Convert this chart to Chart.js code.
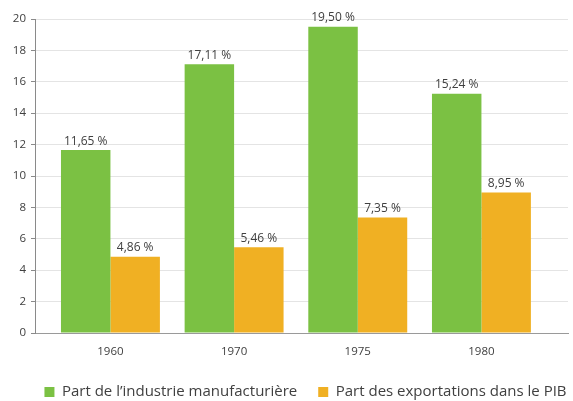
<!DOCTYPE html>
<html>
<head>
<meta charset="utf-8">
<script src="https://cdn.jsdelivr.net/npm/chart.js@4.4.0/dist/chart.umd.min.js"></script>
<style>
  html, body { margin: 0; padding: 0; background: #fff; }
  #wrap { width: 573px; height: 401px; }
</style>
</head>
<body>
<div id="wrap"><canvas id="myChart" width="573" height="401"></canvas></div>
<script>
var years = ['1960', '1970', '1975', '1980'];
var industrie = [11.65, 17.11, 19.50, 15.24];
var exportations = [4.86, 5.46, 7.35, 8.95];
var yTicks = [0, 2, 4, 6, 8, 10, 12, 14, 16, 18, 20];

function points(values) {
    return values.map(function (v, i) { return { x: i, y: v }; });
}

// étiquettes au-dessus des barres
var valueLabels = {
    id: 'valueLabels',
    afterDatasetsDraw: function (chart) {
        var ctx = chart.ctx;
        ctx.save();
        ctx.font = '12px "Open Sans"';
        ctx.fillStyle = '#404040';
        ctx.textAlign = 'center';
        ctx.textBaseline = 'bottom';
        chart.data.datasets.forEach(function (ds, di) {
            chart.getDatasetMeta(di).data.forEach(function (bar, i) {
                var txt = ds.data[i].y.toFixed(2).replace('.', ',') + ' %';
                ctx.fillText(txt, bar.x, bar.y - 3);
            });
        });
        ctx.restore();
    }
};

// décale la légende un peu vers la droite, comme sur l'original
var legendShift = {
    id: 'legendShift',
    afterLayout: function (chart) {
        if (chart.legend) {
            chart.legend.left += 21.5;
            chart.legend.right += 21.5;
        }
    }
};

var ctx = document.getElementById('myChart').getContext('2d');
var myChart = new Chart(ctx, {
    type: 'bar',
    data: {
        datasets: [{
            label: 'Part de l\u2019industrie manufacturière',
            data: points(industrie),
            backgroundColor: '#7bc143',
            categoryPercentage: 0.8,
            barPercentage: 1.0
        }, {
            label: 'Part des exportations dans le PIB',
            data: points(exportations),
            backgroundColor: '#f0b023',
            categoryPercentage: 0.8,
            barPercentage: 1.0
        }]
    },
    options: {
        responsive: false,
        animation: false,
        layout: { padding: { top: 19, right: 5, left: 0, bottom: -8.5 } },
        scales: {
            x: {
                type: 'linear',
                min: -0.61,
                max: 3.70,
                offset: false,
                grid: { display: false, offset: false },
                border: { display: true, color: '#9a9a9a' },
                afterFit: function (scale) { scale.height = 30.5; },
                ticks: {
                    stepSize: 1,
                    includeBounds: false,
                    autoSkip: false,
                    maxRotation: 0,
                    padding: 4,
                    color: '#404040',
                    font: { family: 'Open Sans', size: 11.5 },
                    callback: function (v) { return Number.isInteger(v) ? (years[v] || '') : ''; }
                }
            },
            y: {
                min: 0,
                max: 20,
                afterBuildTicks: function (scale) {
                    scale.ticks = yTicks.map(function (v) { return { value: v }; });
                },
                afterFit: function (scale) { scale.width = 35; },
                grid: { color: '#e4e4e4', tickColor: '#8a8a8a', tickLength: 4 },
                border: { display: true, color: '#8a8a8a' },
                ticks: {
                    padding: 5,
                    color: '#404040',
                    font: { family: 'Open Sans', size: 11.5 }
                }
            }
        },
        plugins: {
            legend: {
                display: true,
                position: 'bottom',
                labels: {
                    boxWidth: 10,
                    boxHeight: 10,
                    padding: 21,
                    color: '#404040',
                    font: { family: 'Open Sans', size: 15 }
                }
            },
            tooltip: { enabled: false }
        }
    },
    plugins: [valueLabels, legendShift]
});
</script>
</body>
</html>
